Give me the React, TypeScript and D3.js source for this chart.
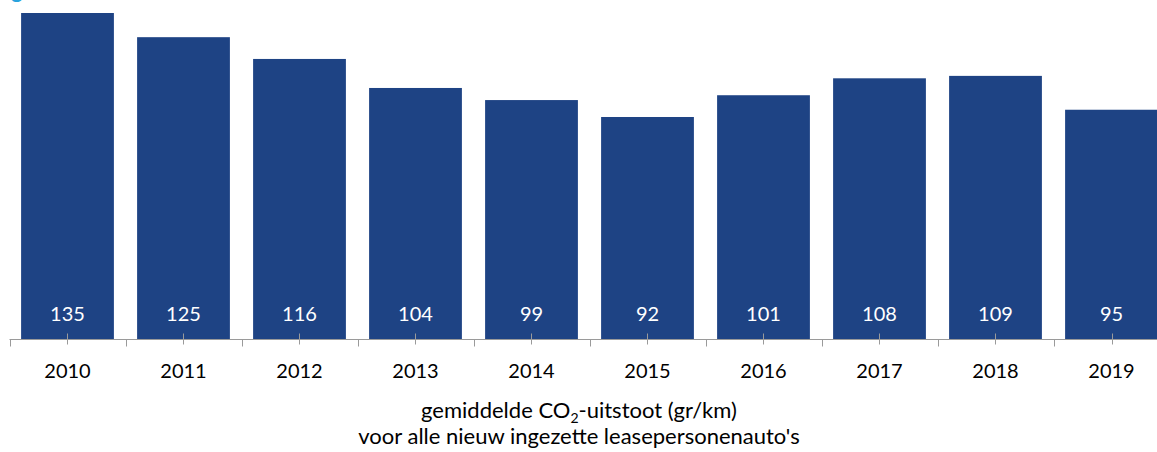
import * as d3 from 'd3';
import { useEffect, useRef } from 'react';

const years = ['2010', '2011', '2012', '2013', '2014', '2015', '2016', '2017', '2018', '2019'];
const co2 = [135, 125, 116, 104, 99, 92, 101, 108, 109, 95];

const App = () => {
  const svgRef = useRef<SVGSVGElement | null>(null);
  const width = 1157, height = 452;
  const axisY = 339.5;
  const left = 9.5;
  const step = 116;

  useEffect(() => {
    const svg = d3.select(svgRef.current);
    svg.selectAll('*').remove();
    const font = 'Lato, "Open Sans", sans-serif';

    const x = d3.scaleBand()
      .domain(years)
      .range([left, left + step * years.length])
      .paddingInner(0.2).paddingOuter(0.1);
    const y = d3.scaleLinear().domain([0, 135]).range([axisY, 13]);

    // title, cut off at the top like in the source
    svg.append('text').attr('x', 11).attr('y', -2).attr('font-family', font)
      .attr('font-size', 22).attr('font-weight', 'bold').attr('fill', '#29a3dd').text('grafiek');

    svg.append('g').selectAll('rect').data(co2).join('rect')
      .attr('x', (_, i) => x(years[i])!)
      .attr('y', d => y(d))
      .attr('width', x.bandwidth())
      .attr('height', d => axisY - y(d))
      .attr('fill', '#1e4384');

    svg.append('g').selectAll('text').data(co2).join('text')
      .attr('x', (_, i) => x(years[i])! + x.bandwidth() / 2)
      .attr('y', 321)
      .attr('text-anchor', 'middle')
      .attr('font-family', font).attr('font-size', 20)
      .attr('fill', '#fff')
      .text(d => d);

    // axis
    const ax = svg.append('g').attr('stroke', '#9a9a9a').attr('stroke-width', 1);
    ax.append('line').attr('x1', left).attr('x2', width).attr('y1', axisY).attr('y2', axisY);
    d3.range(years.length + 1).forEach(i => {
      const bx = Math.round(left + i * step) + 0.5;
      ax.append('line').attr('x1', bx).attr('x2', bx).attr('y1', axisY).attr('y2', axisY + 7);
    });
    years.forEach(yr => {
      const cx = Math.round(x(yr)! + x.bandwidth() / 2) + 0.5;
      ax.append('line').attr('x1', cx).attr('x2', cx).attr('y1', axisY - 6).attr('y2', axisY + 5);
    });

    svg.append('g').selectAll('text').data(years).join('text')
      .attr('x', d => x(d)! + x.bandwidth() / 2)
      .attr('y', 378)
      .attr('text-anchor', 'middle')
      .attr('font-family', font).attr('font-size', 20)
      .attr('fill', '#000')
      .text(d => d);

    const t1 = svg.append('text').attr('x', 579).attr('y', 418).attr('text-anchor', 'middle')
      .attr('font-family', font).attr('font-size', 22).attr('fill', '#000');
    t1.append('tspan').text('gemiddelde CO');
    t1.append('tspan').attr('font-size', 14).attr('dy', 5).text('2');
    t1.append('tspan').attr('dy', -5).text('-uitstoot (gr/km)');
    svg.append('text').attr('x', 579).attr('y', 444).attr('text-anchor', 'middle')
      .attr('font-family', font).attr('font-size', 22).attr('fill', '#000')
      .text("voor alle nieuw ingezette leasepersonenauto's");
  }, []);

  return <svg ref={svgRef} width={width} height={height} style={{ position: 'absolute', left: 0, top: 0 }}></svg>;
};

export default App;
